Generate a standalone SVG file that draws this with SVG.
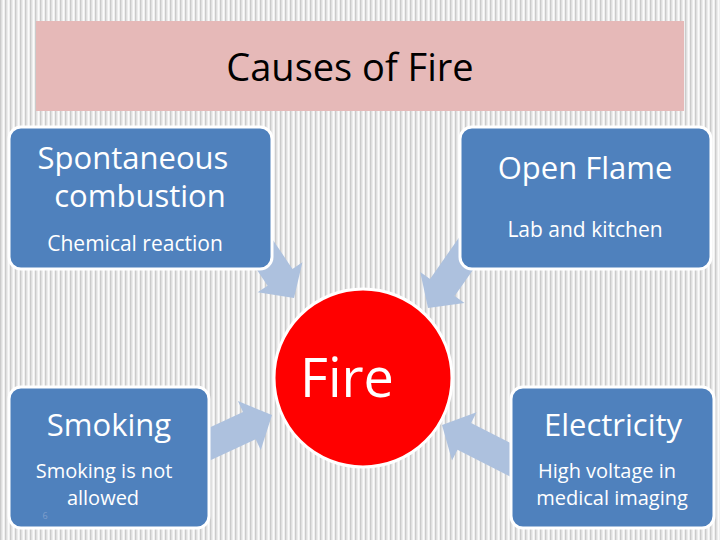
<svg xmlns="http://www.w3.org/2000/svg" width="720" height="540" viewBox="0 0 720 540">
<defs>
<pattern id="stripes" x="0" y="0" width="5" height="540" patternUnits="userSpaceOnUse">
<rect width="5" height="540" fill="#ededed"/>
<rect x="0" width="1.4" height="540" fill="#cbcbcb"/>
<rect x="3" width="1.2" height="540" fill="#fbfbfb"/>
</pattern>
<polygon id="arrow" points="0,0 -25,-27 -25,-15 -85,-15 -85,15 -25,15 -25,27"/>
</defs>
<style>
.box{fill:#4f81bd;stroke:#ffffff;stroke-width:3}
.arr{fill:#adc1de}
.t{font-family:"Open Sans","Liberation Sans",sans-serif;fill:#ffffff;text-anchor:middle}
.big{font-size:31px}
.small{font-size:21px}
.two{font-size:20px}
</style>
<rect width="720" height="540" fill="url(#stripes)"/>
<g id="title">
<rect x="36" y="21" width="648" height="90" fill="#e6b9b8"/>
<text x="350" y="81" font-family="Open Sans, Liberation Sans, sans-serif" font-size="38" fill="#000000" text-anchor="middle">Causes of Fire</text>
</g>
<g id="connectors">
<use href="#arrow" class="arr" transform="translate(294,298) rotate(56)"/>
<use href="#arrow" class="arr" transform="translate(428,308) rotate(125)"/>
<use href="#arrow" class="arr" transform="translate(272,415) rotate(-25)"/>
<use href="#arrow" class="arr" transform="translate(442,425) rotate(207)"/>
</g>
<g id="spontaneous">
<rect class="box" x="9" y="127" width="263" height="142" rx="12"/>
<text class="t big" x="133" y="169">Spontaneous</text>
<text class="t big" x="140" y="207">combustion</text>
<text class="t small" x="135" y="251">Chemical reaction</text>
</g>
<g id="openflame">
<rect class="box" x="460" y="127" width="251" height="142" rx="12"/>
<text class="t big" x="585" y="179">Open Flame</text>
<text class="t small" x="585" y="237">Lab and kitchen</text>
</g>
<g id="smoking">
<rect class="box" x="9" y="387" width="200" height="141" rx="12"/>
<text class="t big" x="109" y="436">Smoking</text>
<text class="t two" x="104" y="478">Smoking is not</text>
<text class="t two" x="103" y="505">allowed</text>
<text x="45" y="519" font-family="Open Sans, Liberation Sans, sans-serif" font-size="9" fill="#7f9fcc" text-anchor="middle">6</text>
</g>
<g id="electricity">
<rect class="box" x="511" y="387" width="203" height="141" rx="12"/>
<text class="t big" x="613" y="436">Electricity</text>
<text class="t two" x="607" y="478">High voltage in</text>
<text class="t two" x="612" y="505">medical imaging</text>
</g>
<g id="fire">
<circle cx="363" cy="378" r="89" fill="#ff0000" stroke="#ffffff" stroke-width="3"/>
<text class="t" x="347" y="397" font-size="54">Fire</text>
</g>
</svg>
